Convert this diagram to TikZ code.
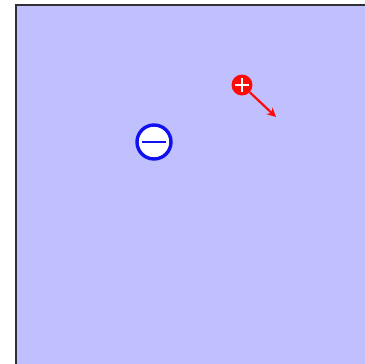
\documentclass[tikz,border=0pt]{standalone}
\usetikzlibrary{arrows.meta}
\definecolor{bgblue}{HTML}{C0C0FF}
\definecolor{frame}{HTML}{303038}
\definecolor{negblue}{HTML}{1010F0}
\definecolor{posred}{HTML}{FF0A0A}
\tikzset{
  negcharge/.style={circle, draw=negblue, line width=3.4pt, fill=white, minimum size=34pt, inner sep=0pt},
  poscharge/.style={circle, fill=posred, minimum size=21pt, inner sep=0pt},
  velarrow/.style={draw=posred, line width=2.2pt, -{Stealth[length=9pt,width=9pt]}}
}
\begin{document}
\begin{tikzpicture}[x=1pt,y=-1pt]
\useasboundingbox (0,0) rectangle (365,364);
\fill[bgblue] (16,5) rectangle (365,364);
\draw[frame, line width=2pt] (15.5,364) -- (15.5,4.5) -- (365,4.5);
\node[negcharge] (neg) at (154,142) {};
\draw[negblue, line width=2.6pt] (142,142) -- (166,142);
\node[poscharge] (pos) at (242,85) {};
\draw[white, line width=2.6pt] (235,85) -- (249,85) (242,78) -- (242,92);
\coordinate (tip) at (276,117);
\draw[velarrow] (pos) -- (tip);
\end{tikzpicture}
\end{document}
